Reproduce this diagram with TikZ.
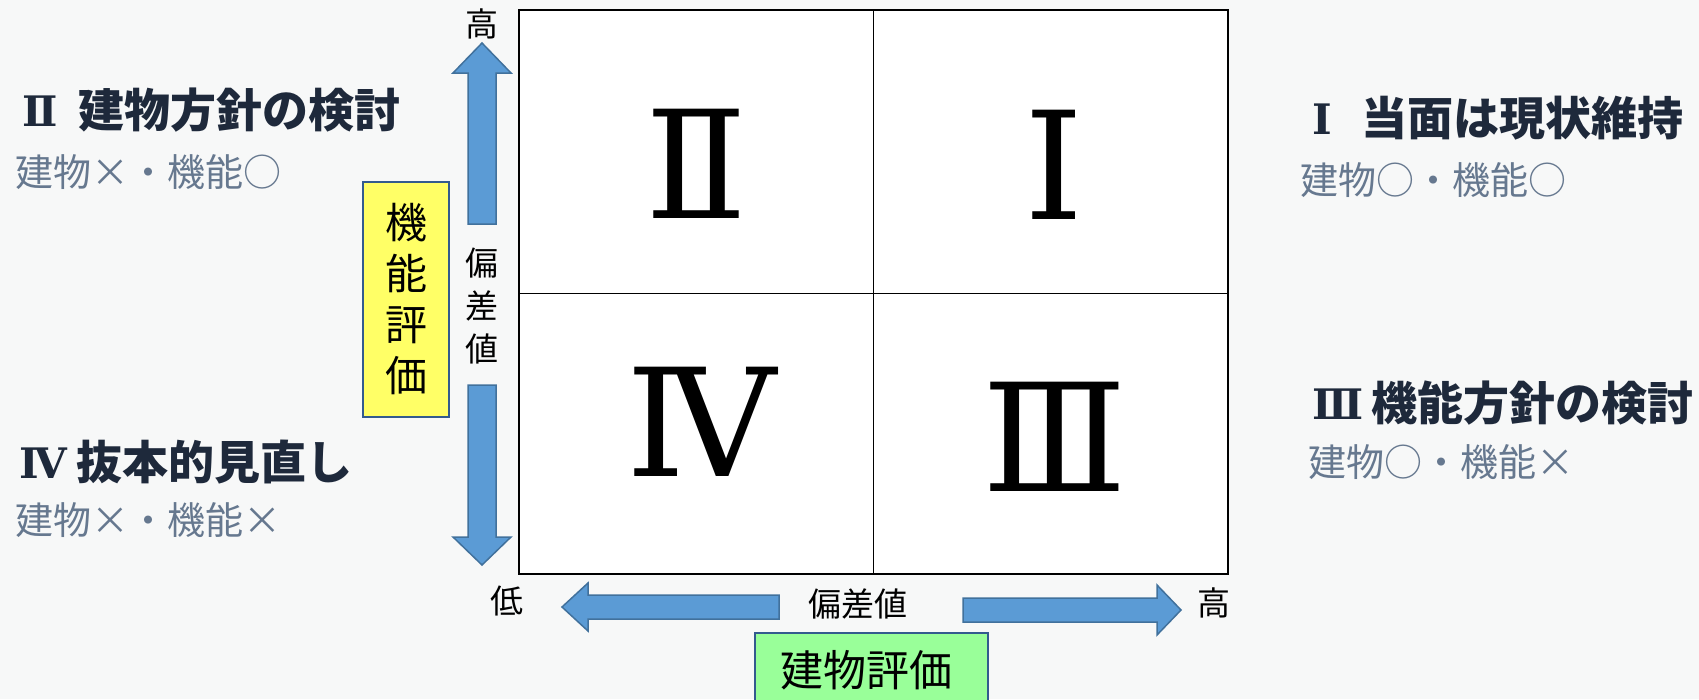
\documentclass[tikz,border=0pt]{standalone}
\usepackage{fontspec}
\newfontfamily\jp{Noto Sans CJK JP}
\newfontfamily\rom{DejaVu Serif}
\definecolor{bgc}{HTML}{F7F8F8}
\definecolor{arrfill}{HTML}{5B9BD5}
\definecolor{arrline}{HTML}{41719C}
\definecolor{boxline}{HTML}{335B8E}
\definecolor{yel}{HTML}{FFFF66}
\definecolor{grn}{HTML}{99FF99}
\definecolor{headc}{HTML}{1E293B}
\definecolor{subc}{HTML}{66788F}
\begin{document}
\begin{tikzpicture}[x=1pt,y=-1pt,
  bigrom/.style={inner sep=0pt,font=\rom\fontsize{150}{150}\selectfont},
  headnum/.style={anchor=west,inner sep=0pt,text=headc,font=\rom\bfseries\fontsize{42}{42}\selectfont},
  headtxt/.style={anchor=west,inner sep=0pt,text=headc,font=\jp\bfseries\fontsize{46}{46}\selectfont},
  subtxt/.style={anchor=west,inner sep=0pt,text=subc,font=\jp\fontsize{38}{38}\selectfont},
  axtxt/.style={inner sep=0pt,font=\jp\fontsize{33}{43}\selectfont,align=center},
  blockarrow/.style={fill=arrfill,draw=arrline,line width=1.5pt,line join=miter},
  labelbox/.style={draw=boxline,line width=1.8pt,inner sep=0pt,align=center,font=\jp\fontsize{42}{51}\selectfont}]
\useasboundingbox (0,0) rectangle (1699,699);
\fill[bgc] (0,0) rectangle (1699,699);
% main grid
\draw[fill=white,line width=2.4pt] (519,10) rectangle (1228,574);
\coordinate (vt) at (873,10);
\coordinate (vb) at (873,574);
\coordinate (hl) at (519,293);
\coordinate (hr) at (1228,293);
\draw[line width=1pt] (vt) -- (vb);
\draw[line width=1pt] (hl) -- (hr);
% quadrant numerals
\node[bigrom] (q2) at (696,164) {Ⅱ};
\node[bigrom] (q1) at (1054,165) {Ⅰ};
\node[bigrom] (q4) at (701,422) {Ⅳ};
\node[bigrom] (q3) at (1055,437) {Ⅲ};
% headings
\node[headnum] (n2) at (22,111) {Ⅱ};
\node[headtxt] (h2) at (78,110) {建物方針の検討};
\node[subtxt] (s2) at (15,172) {建物×・機能○};
\node[headnum] (n4) at (19,463) {Ⅳ};
\node[headtxt] (h4) at (76,462) {抜本的見直し};
\node[subtxt] (s4) at (15,520) {建物×・機能×};
\node[headnum] (n1) at (1312,119) {Ⅰ};
\node[headtxt] (h1) at (1361,118) {当面は現状維持};
\node[subtxt] (s1) at (1300,180) {建物○・機能○};
\node[headnum] (n3) at (1312,404) {Ⅲ};
\node[headtxt] (h3) at (1371,403) {機能方針の検討};
\node[subtxt] (s3) at (1308,462) {建物○・機能×};
% vertical axis
\draw[blockarrow] (468,224) -- (468,73) -- (453,73) -- (482,43) -- (511,73) -- (496,73) -- (496,224) -- cycle;
\draw[blockarrow] (468,385) -- (468,537) -- (453,537) -- (482,565) -- (511,537) -- (496,537) -- (496,385) -- cycle;
\node[axtxt] (vhigh) at (482,24) {高};
\node[axtxt] (vdev) at (482,306) {偏\\差\\値};
\node[axtxt] (vlow) at (507,601) {低};
\node[labelbox,fill=yel,minimum width=86pt,minimum height=235pt] (ybox) at (406,299.5) {機\\能\\評\\価};
% horizontal axis
\draw[blockarrow] (779,595) -- (588,595) -- (588,583) -- (562,607) -- (588,631) -- (588,619) -- (779,619) -- cycle;
\draw[blockarrow] (963,598) -- (1157,598) -- (1157,585) -- (1181,610) -- (1157,635) -- (1157,622) -- (963,622) -- cycle;
\node[axtxt] (hdev) at (858,604) {偏差値};
\node[axtxt] (hhigh) at (1214,603) {高};
\node[labelbox,fill=grn,minimum width=233pt,minimum height=90pt,anchor=north] (gbox) at (871.5,632) {};
\node[inner sep=0pt,font=\jp\fontsize{43}{43}\selectfont] (gtxt) at (866,670) {建物評価};
\end{tikzpicture}
\end{document}
